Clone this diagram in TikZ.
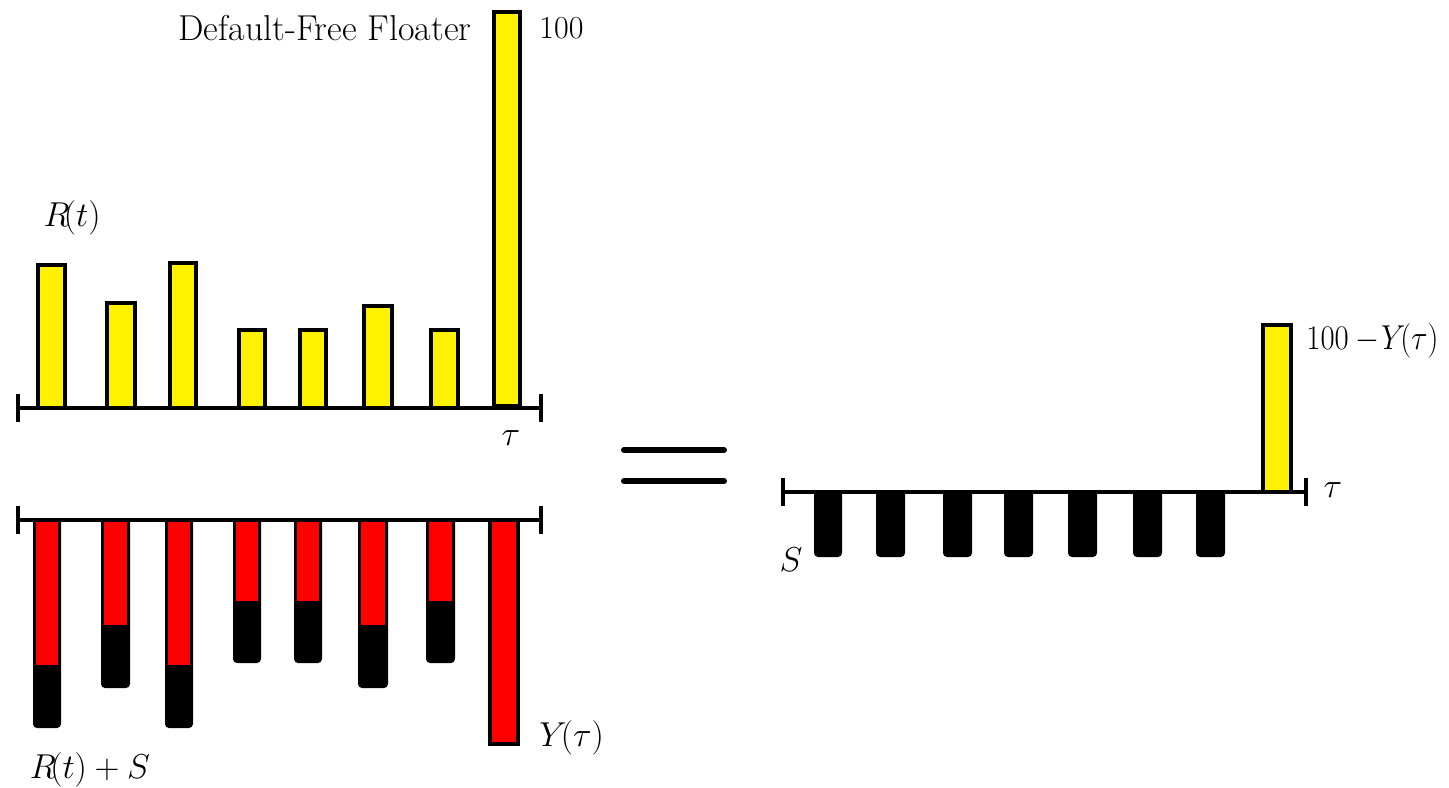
\documentclass[tikz,border=0pt]{standalone}
\usepackage{graphicx}
\begin{document}
\begin{tikzpicture}[x=0.5pt,y=-0.5pt,
  lbl/.style={inner sep=0pt,font=\fontsize{16}{19}\selectfont},
  tlbl/.style={inner sep=0pt,font=\fontsize{18}{21}\selectfont},
  axisline/.style={line width=2pt},
  ybar/.style={fill=yellow,draw=black,line width=2pt},
  eqline/.style={line width=3pt,line cap=round}]
\useasboundingbox (0,0) rectangle (1449,787);
% ---- top chart ----
\draw[axisline] (18,408) -- (541,408);
\draw[axisline] (18,394) -- (18,422);
\draw[axisline] (541,394) -- (541,422);
\foreach \a/\b/\t in {38/65/265,107/135/303,170/196/263,239/265/330,300/326/330,364/392/306,431/458/330}
  \draw[ybar] (\a,408) rectangle (\b,\t);
\draw[ybar] (494,406) rectangle (520,12);
\node[lbl] (rt) at (72,218) {$R\!(t)$};
\node[tlbl,anchor=east] (dff) at (472,28) {Default-Free Floater};
\node[lbl,anchor=west] (hundred) at (539,28) {100};
\node[lbl] (tau1) at (511,438) {$\tau$};
% ---- bottom chart ----
\foreach \a/\b/\r/\k in {33/61/665/728,101/130/625/688,165/193/665/728,233/261/601/663,294/322/601/663,358/388/625/688,426/455/601/663}{
  \fill[black,rounded corners=2] (\a,518) rectangle (\b,\k);
  \fill[red] (\a+3,518) rectangle (\b-3,\r);
}
\draw[fill=red,draw=black,line width=2pt] (490,520) rectangle (518,744);
\draw[axisline] (18,520) -- (541,520);
\draw[axisline] (18,506) -- (18,534);
\draw[axisline] (541,506) -- (541,534);
\node[lbl,anchor=west] (ytau) at (539,738) {$Y\!(\tau)$};
\node[lbl] (rts) at (90,770) {$R\!(t)+S$};
% ---- equals ----
\draw[eqline] (624,450) -- (724,450);
\draw[eqline] (624,481) -- (724,481);
% ---- right chart ----
\foreach \a/\b in {814/842,876/905,943/972,1004/1033,1068/1097,1133/1162,1196/1225}
  \fill[black,rounded corners=2] (\a,490) rectangle (\b,557);
\draw[ybar] (1263,492) rectangle (1291,325);
\draw[axisline] (783,492) -- (1306,492);
\draw[axisline] (783,478) -- (783,506);
\draw[axisline] (1306,478) -- (1306,506);
\node[lbl,anchor=west] (hy) at (1306,341) {\scalebox{0.89}[1]{$100-\!Y\!(\tau)$}};
\node[lbl] (tau2) at (1333,490) {$\tau$};
\node[lbl] (s) at (791,560) {$S$};
\end{tikzpicture}
\end{document}
